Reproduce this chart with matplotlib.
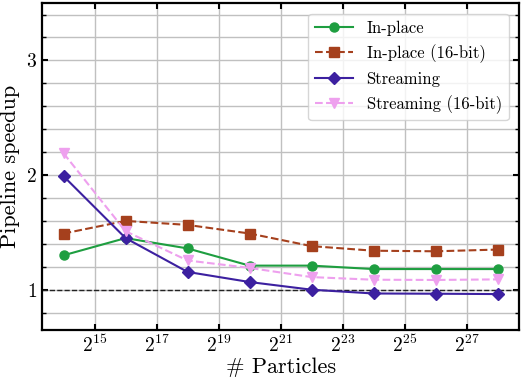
import numpy as np
import matplotlib
matplotlib.use("Agg")
import matplotlib.pyplot as plt
from matplotlib.ticker import MultipleLocator

plt.rcParams['font.family'] = 'serif'
plt.rcParams['font.serif'] = ['cmr10']
plt.rcParams['mathtext.fontset'] = 'cm'
plt.rcParams['axes.formatter.use_mathtext'] = True

exps = np.array([14, 16, 18, 20, 22, 24, 26, 28])
particles = 2.0 ** exps

inplace = [1.30, 1.45, 1.36, 1.21, 1.21, 1.18, 1.18, 1.18]
inplace16 = [1.49, 1.60, 1.565, 1.49, 1.38, 1.34, 1.335, 1.35]
streaming = [1.99, 1.45, 1.155, 1.067, 1.00, 0.967, 0.965, 0.962]
streaming16 = [2.19, 1.51, 1.255, 1.19, 1.11, 1.087, 1.085, 1.09]

tick_exps = [15, 17, 19, 21, 23, 25, 27]

fig = plt.figure(figsize=(5.23, 3.8), dpi=100)
ax = fig.add_axes([0.080, 0.132, 0.913, 0.860])

ax.plot(particles, inplace, '-o', color='#1e9e40', ms=6.5, lw=1.5, label='In-place')
ax.plot(particles, inplace16, '--s', color='#a5401d', ms=6.5, lw=1.5, label='In-place (16-bit)')
ax.plot(particles, streaming, '-D', color='#3c20a0', ms=6.5, lw=1.5, label='Streaming')
ax.plot(particles, streaming16, '--v', color='#eea0ee', ms=7, lw=1.5, label='Streaming (16-bit)')
ax.axhline(1.0, color='#222222', ls='--', lw=1.0, zorder=1)

ax.set_xscale('log', base=2)
ax.set_xticks([2.0 ** e for e in tick_exps])
ax.set_xticklabels(['$2^{%d}$' % e for e in tick_exps])
ax.xaxis.set_minor_locator(plt.NullLocator())
ax.set_ylim(0.65, 3.5)
ax.yaxis.set_major_locator(MultipleLocator(1))
ax.yaxis.set_minor_locator(MultipleLocator(0.2))

ax.grid(True, which='major', color='#c0c0c0', lw=1.0)
ax.grid(True, which='minor', axis='y', color='#c0c0c0', lw=1.0)
ax.set_axisbelow(True)

ax.tick_params(which='both', direction='in', top=True, right=True, labelsize=14)
ax.tick_params(which='major', length=4, width=1.5)
ax.tick_params(which='minor', length=3, width=1.0)
for s in ax.spines.values():
    s.set_linewidth(1.6)

ax.set_xlabel('# Particles', fontsize=16, labelpad=1)
ax.set_ylabel('Pipeline speedup', fontsize=16, labelpad=4)

ax.legend(loc='upper right', fontsize=12, framealpha=0.8, borderpad=0.4,
          labelspacing=0.5, handlelength=2.3, handletextpad=0.8,
          borderaxespad=0.65)

fig.savefig('out.png', dpi=100)
